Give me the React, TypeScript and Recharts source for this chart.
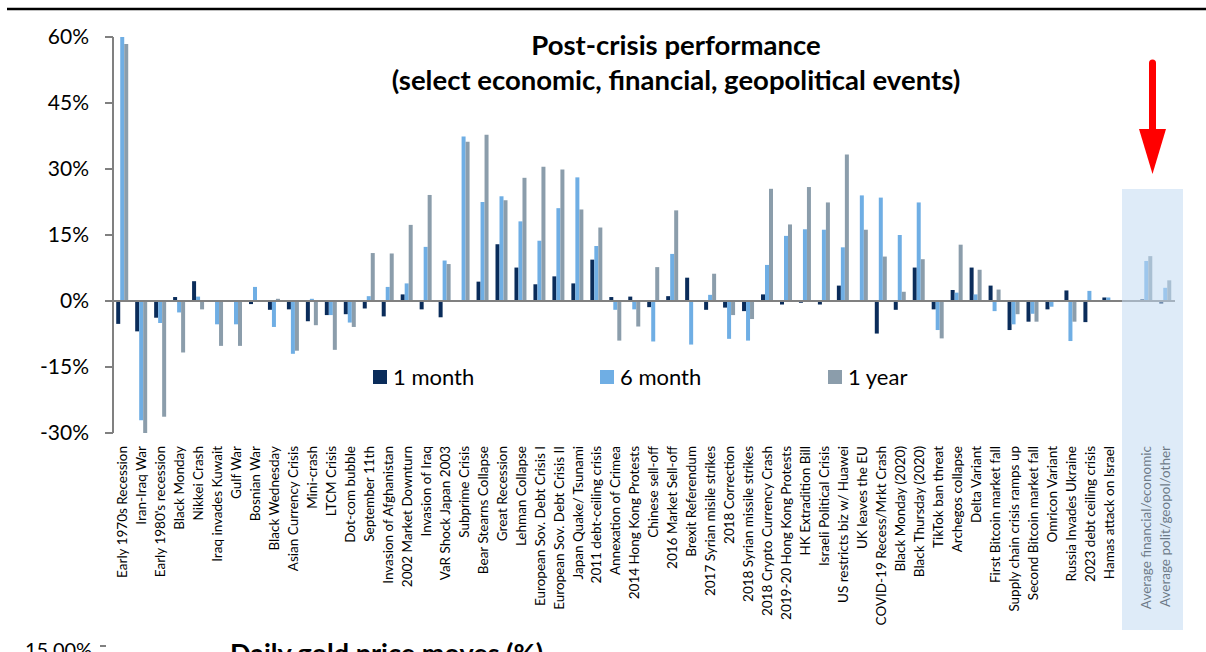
import { Bar, BarChart, Legend, ReferenceLine, XAxis, YAxis } from 'recharts'

const categories = [
  'Early 1970s Recession', 'Iran-Iraq War', "Early 1980's recession", 'Black Monday', 'Nikkei Crash',
  'Iraq invades Kuwait', 'Gulf War', 'Bosnian War', 'Black Wednesday', 'Asian Currency Crisis',
  'Mini-crash', 'LTCM Crisis', 'Dot-com bubble', 'September 11th', 'Invasion of Afghanistan',
  '2002 Market Downturn', 'Invasion of Iraq', 'VaR Shock Japan 2003', 'Subprime Crisis', 'Bear Stearns Collapse',
  'Great Recession', 'Lehman Collapse', 'European Sov. Debt Crisis I', 'European Sov. Debt Crisis II', 'Japan Quake/ Tsunami',
  '2011 debt-ceiling crisis', 'Annexation of Crimea', '2014 Hong Kong Protests', 'Chinese sell-off', '2016 Market Sell-off',
  'Brexit Referendum', '2017 Syrian misile strikes', '2018 Correction', '2018 Syrian missile strikes', '2018 Crypto Currency Crash',
  '2019-20 Hong Kong Protests', 'HK Extradition Bill', 'Israeli Political Crisis', 'US restricts biz w/ Huawei', 'UK leaves the EU',
  'COVID-19 Recess/Mrkt Crash', 'Black Monday (2020)', 'Black Thursday (2020)', 'TikTok ban threat', 'Archegos collapse',
  'Delta Variant', 'First Bitcoin market fall', 'Supply chain crisis ramps up', 'Second Bitcoin market fall', 'Omricon Variant',
  'Russia Invades Ukraine', '2023 debt ceiling crisis', 'Hamas attack on Israel', '',
  'Average financial/economic', 'Average polit/geopol/other',
]

const oneMonth = [
  -5.2, -6.9, -3.8, 0.9, 4.5, 0, 0, -0.7, -2.0, -1.9,
  -4.6, -3.2, -3.0, -1.7, -3.5, 1.5, -1.9, -3.7, 0, 4.4,
  12.9, 7.6, 3.8, 5.6, 4.0, 9.4, 0.9, 1.0, -1.4, 1.1,
  5.3, -2.0, -1.5, -2.3, 1.5, -0.8, -0.4, -0.8, 3.5, 0,
  -7.4, -2.0, 7.6, -1.9, 2.5, 7.6, 3.5, -6.6, -4.7, -1.9,
  2.4, -4.8, 0.8, null, 0.4, -0.6,
]

const sixMonth = [
  60.0, -27.1, -5.0, -2.6, 1.0, -5.3, -5.3, 3.2, -5.9, -12.0,
  0.5, -3.2, -4.9, 1.1, 3.2, 4.0, 12.3, 9.2, 37.4, 22.5,
  23.8, 18.1, 13.7, 21.1, 28.1, 12.5, -2.0, -1.9, -9.2, 10.7,
  -9.9, 1.4, -8.6, -9.0, 8.2, 14.8, 16.3, 16.2, 12.2, 24.0,
  23.5, 15.0, 22.4, -6.6, 1.9, 1.5, -2.3, -5.3, -2.9, -1.3,
  -9.1, 2.3, 0.8, null, 9.1, 3.0,
]

const oneYear = [
  58.4, -30.4, -26.3, -11.7, -1.9, -10.2, -10.2, 0.2, 0.5, -11.3,
  -5.5, -11.1, -5.9, 10.9, 10.8, 17.3, 24.1, 8.4, 36.2, 37.8,
  22.9, 28.0, 30.5, 29.9, 20.8, 16.7, -9.0, -5.8, 7.7, 20.6,
  0, 6.2, -3.2, -4.1, 25.5, 17.4, 25.9, 22.4, 33.3, 16.2,
  10.1, 2.1, 9.5, -8.5, 12.8, 7.1, 2.6, -3.0, -4.7, 0,
  -4.7, 0, 0, null, 10.2, 4.7,
]

const yTicks = [-30, -15, 0, 15, 30, 45, 60]

const FONT = 'Lato, "Open Sans", sans-serif'
const NAVY = '#0a2c5a'
const LIGHT = '#6faee4'
const GREY = '#8b9dab'
const AXIS = '#808080'

const data = categories.map((name, i) => ({
  name,
  m1: oneMonth[i],
  m6: sixMonth[i],
  y1: oneYear[i],
}))

function CategoryTick({ x, y, payload }: any) {
  return (
    <g transform={`translate(${x},${y + 5})`}>
      <text
        transform="rotate(-90)"
        textAnchor="end"
        dy="0.36em"
        fontSize={13.5}
        fontFamily={FONT}
        fill="#000"
      >
        {payload.value}
      </text>
    </g>
  )
}

const LEGEND_LEFT = [373, 600, 828]

function LegendRow({ payload }: any) {
  return (
    <div style={{ position: 'relative', height: 0 }}>
      {(payload ?? []).map((p: any, i: number) => (
        <div
          key={p.value}
          style={{
            position: 'absolute',
            left: LEGEND_LEFT[i],
            top: 0,
            display: 'flex',
            alignItems: 'center',
            fontFamily: FONT,
            fontSize: 22,
            lineHeight: '26px',
            color: '#000',
            whiteSpace: 'nowrap',
          }}
        >
          <span style={{ width: 14, height: 14, background: p.color, marginRight: 6 }} />
          {p.value}
        </div>
      ))}
    </div>
  )
}

export default function App() {
  return (
    <div style={{ position: 'relative', width: 1206, height: 652, overflow: 'hidden', background: '#fff' }}>
      <style>{'body{margin:0;overflow:hidden}'}</style>
      <BarChart
        width={1206}
        height={652}
        data={data}
        margin={{ top: 37, right: 31, bottom: 19, left: 0 }}
        barCategoryGap="17%"
        barGap={0}
      >
        <XAxis
          dataKey="name"
          interval={0}
          axisLine={false}
          tickLine={false}
          height={200}
          tick={<CategoryTick />}
        />
        <YAxis
          domain={[-30, 60]}
          ticks={yTicks}
          allowDataOverflow
          width={113}
          tickFormatter={(v: number) => `${v}%`}
          axisLine={{ stroke: AXIS, strokeWidth: 2 }}
          tickLine={{ stroke: AXIS, strokeWidth: 2 }}
          tickSize={8}
          tickMargin={16}
          tick={{ fill: '#000', fontSize: 21, fontFamily: FONT }}
        />
        <ReferenceLine y={0} stroke={AXIS} strokeWidth={2} />
        <Legend
          verticalAlign="top"
          itemSorter="dataKey"
          content={<LegendRow />}
          wrapperStyle={{ position: 'absolute', top: 364, left: 0, width: 1206, height: 0, overflow: 'visible' }}
        />
        <Bar dataKey="m1" name="1 month" fill={NAVY} isAnimationActive={false} />
        <Bar dataKey="m6" name="6 month" fill={LIGHT} isAnimationActive={false} />
        <Bar dataKey="y1" name="1 year" fill={GREY} isAnimationActive={false} />
      </BarChart>

      <svg
        width={1206}
        height={652}
        style={{ position: 'absolute', left: 0, top: 0, pointerEvents: 'none' }}
      >
        <line x1={7} y1={9} x2={1206} y2={9} stroke="#000" strokeWidth={2.5} />
        <text x={676} y={55} textAnchor="middle" fontFamily={FONT} fontWeight="bold" fontSize={27.5}>
          Post-crisis performance
        </text>
        <text x={676} y={90} textAnchor="middle" fontFamily={FONT} fontWeight="bold" fontSize={27.5}>
          (select economic, financial, geopolitical events)
        </text>
        <rect x={1122} y={189} width={61} height={441} fill="rgb(195,219,242)" fillOpacity={0.55} />
        <line x1={1152.5} y1={63} x2={1152.5} y2={132} stroke="#ff0000" strokeWidth={7} strokeLinecap="round" />
        <polygon points="1139,129 1166,129 1152.5,174" fill="#ff0000" />
        <text x={25} y={657} fontFamily={FONT} fontSize={20}>15.00%</text>
        <line x1={100} y1={646} x2={106} y2={646} stroke={AXIS} strokeWidth={2} />
        <text x={230} y={663} fontFamily={FONT} fontWeight="bold" fontSize={27}>
          Daily gold price moves (%)
        </text>
      </svg>
    </div>
  )
}
